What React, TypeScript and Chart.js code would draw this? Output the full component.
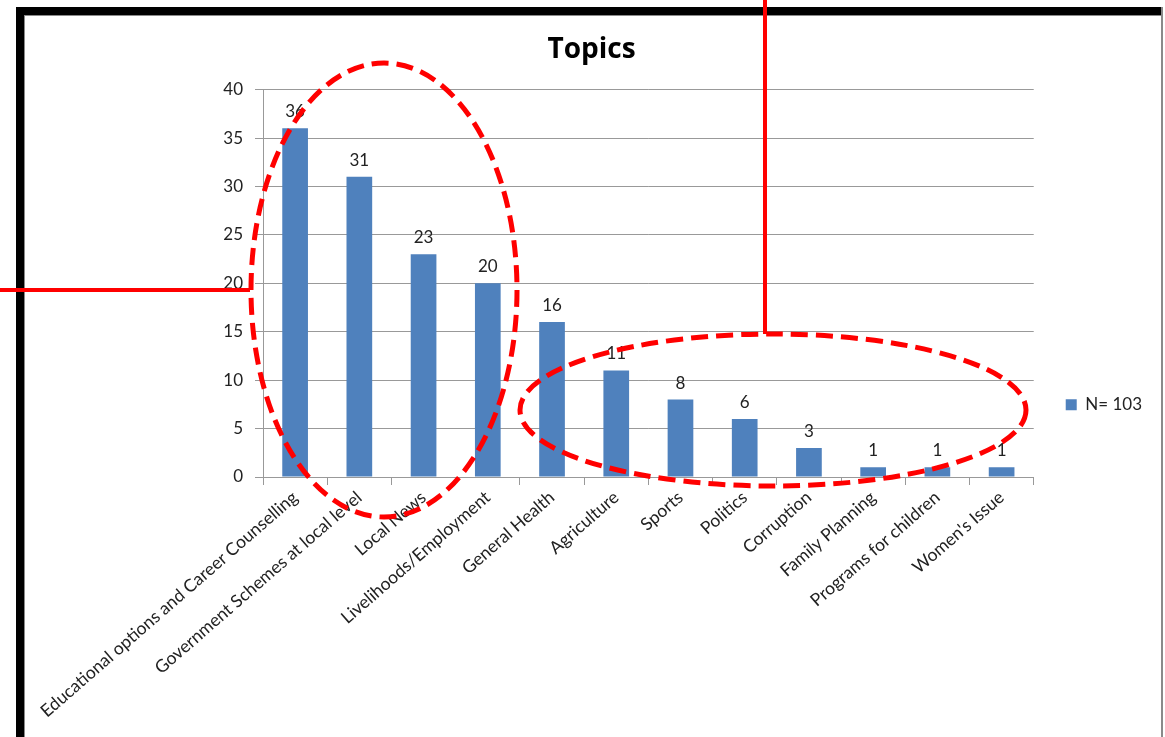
import React, { useEffect, useRef } from "react";
import { Chart, registerables } from "chart.js";

Chart.register(...registerables);

const categories = [
  "Educational options and Career Counselling",
  "Government Schemes at local level",
  "Local News",
  "Livelihoods/Employment",
  "General Health",
  "Agriculture",
  "Sports",
  "Politics",
  "Corruption",
  "Family Planning",
  "Programs for children",
  "Women's Issue",
];
const counts = [36, 31, 23, 20, 16, 11, 8, 6, 3, 1, 1, 1];
const seriesLabel = "N= 103";
const chartTitle = "Topics";
const yMin = 0;
const yMax = 40;
const yStep = 5;

const FONT = "Lato, 'Liberation Sans', sans-serif";

const framePlugin = {
  id: "frame",
  beforeDraw(chart: any) {
    const ctx = chart.ctx;
    ctx.save();
    ctx.fillStyle = "#ffffff";
    ctx.fillRect(0, 0, chart.width, chart.height);
    ctx.fillStyle = "#000000";
    ctx.fillRect(16, 7, 1147, 8);
    ctx.fillRect(16, 7, 8, chart.height - 7);
    ctx.fillStyle = "#8a8a8a";
    ctx.fillRect(24, 15, 1, chart.height - 15);
    ctx.fillRect(24, 15, 1137, 1);
    ctx.fillRect(1161, 7, 2, chart.height - 7);
    ctx.restore();
  },
};

const valueLabelPlugin = {
  id: "valueLabels",
  afterDatasetsDraw(chart: any) {
    const ctx = chart.ctx;
    const meta = chart.getDatasetMeta(0);
    ctx.save();
    ctx.font = `17px ${FONT}`;
    ctx.fillStyle = "#222";
    ctx.textAlign = "center";
    ctx.textBaseline = "bottom";
    meta.data.forEach((bar: any, i: number) => {
      ctx.fillText(String(counts[i]), bar.x, bar.y - 8);
    });
    ctx.restore();
  },
};

const annotationPlugin = {
  id: "annotations",
  afterDraw(chart: any) {
    const ctx = chart.ctx;
    ctx.save();
    ctx.strokeStyle = "#ff0000";
    ctx.lineWidth = 4;
    ctx.setLineDash([]);
    ctx.beginPath();
    ctx.moveTo(0, 290);
    ctx.lineTo(250, 290);
    ctx.moveTo(765, 0);
    ctx.lineTo(765, 334);
    ctx.stroke();
    ctx.lineWidth = 5;
    ctx.setLineDash([17, 8]);
    ctx.beginPath();
    ctx.ellipse(384, 290, 133, 227, 0, 0, Math.PI * 2);
    ctx.stroke();
    ctx.beginPath();
    ctx.ellipse(773, 410, 253, 76, 0, 0, Math.PI * 2);
    ctx.stroke();
    ctx.restore();
  },
};

export default function App() {
  const canvasRef = useRef<HTMLCanvasElement | null>(null);

  useEffect(() => {
    if (!canvasRef.current) return;
    const chart = new Chart(canvasRef.current, {
      type: "bar",
      data: {
        labels: categories,
        datasets: [
          {
            label: seriesLabel,
            data: counts,
            backgroundColor: "#4F81BD",
            borderColor: "#4F81BD",
            barPercentage: 0.4,
            categoryPercentage: 1,
          },
        ],
      },
      plugins: [framePlugin, valueLabelPlugin, annotationPlugin],
      options: {
        animation: false,
        responsive: false,
        maintainAspectRatio: false,
        layout: { padding: { left: 31, top: 33, right: 13, bottom: 0 } },
        plugins: {
          title: {
            display: true,
            text: chartTitle,
            color: "#000",
            font: { family: "'Open Sans', sans-serif", size: 28, weight: "bold" },
            padding: { top: 0, bottom: 23 },
          },
          legend: {
            position: "right",
            title: {
              display: true,
              text: " ",
              font: { family: FONT, size: 28 },
              padding: 3,
            },
            labels: {
              boxWidth: 11,
              boxHeight: 11,
              color: "#222",
              font: { family: FONT, size: 17 },
              padding: 32,
            },
          },
          tooltip: { enabled: false },
        },
        scales: {
          x: {
            afterFit(scale: any) {
              scale.height = 260;
            },
            grid: {
              display: true,
              drawOnChartArea: false,
              drawTicks: true,
              tickLength: 8,
              color: "#999",
              offset: true,
            },
            border: { color: "#999" },
            ticks: {
              autoSkip: false,
              minRotation: 41,
              maxRotation: 41,
              color: "#222",
              font: { family: FONT, size: 17.5 },
              padding: 2,
            },
          },
          y: {
            min: yMin,
            max: yMax,
            afterFit(scale: any) {
              scale.width = 232;
            },
            grid: { color: "#999", tickLength: 8 },
            border: { color: "#999" },
            ticks: {
              stepSize: yStep,
              color: "#222",
              padding: 12,
              font: { family: FONT, size: 17 },
            },
          },
        },
      },
    });
    return () => chart.destroy();
  }, []);

  return (
    <div style={{ position: "absolute", left: 0, top: 0, width: 1165, height: 737 }}>
      <canvas ref={canvasRef} width={1165} height={737} style={{ width: 1165, height: 737 }} />
    </div>
  );
}
